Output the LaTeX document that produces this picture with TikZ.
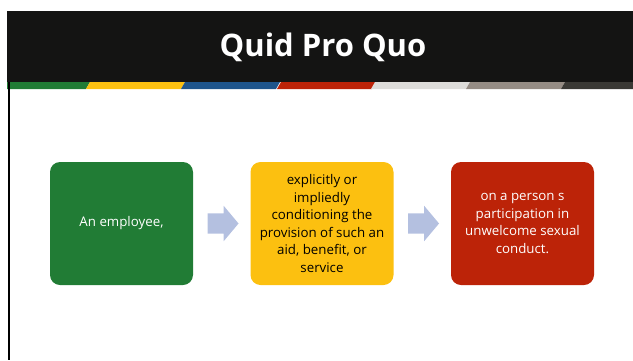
\documentclass[tikz,border=0pt]{standalone}
\usepackage{fontspec}
\setmainfont{Open Sans}
\usetikzlibrary{positioning, shapes.arrows, calc}
\definecolor{bannerblack}{HTML}{141413}
\definecolor{empgreen}{HTML}{217C35}
\definecolor{condyellow}{HTML}{FCC010}
\definecolor{conductred}{HTML}{BC2308}
\definecolor{stripeblue}{HTML}{1E558C}
\definecolor{stripelight}{HTML}{DDDCD9}
\definecolor{stripegray}{HTML}{958C84}
\definecolor{stripedark}{HTML}{3A3935}
\definecolor{flowblue}{HTML}{B4C0E0}

\begin{document}
\begin{tikzpicture}[x=1pt, y=-1pt, node distance=200.5pt,
    box/.style={rounded corners=10pt, minimum width=143pt, minimum height=123pt,
      inner sep=0pt, align=center, font=\fontsize{13.3}{17.5}\selectfont},
    flow/.style={single arrow, fill=flowblue, inner xsep=0pt, inner ysep=10pt,
      minimum height=31pt, minimum width=35pt, single arrow head extend=7.5pt,
      single arrow tip angle=100, xshift=-3pt}]
  \useasboundingbox (0,0) rectangle (633,360);

  % title banner and coloured stripe
  \fill[bannerblack] (7,11) rectangle (633,82);
  \node[font=\fontsize{31}{36}\selectfont\bfseries, text=white] (title) at (323,47) {Quid Pro Quo};
  \fill[empgreen] (7,82) -- (90,82) -- (86,89) -- (7,89) -- cycle;
  \foreach \x/\col in {90/condyellow, 185/stripeblue, 281/conductred, 375/stripelight, 470/stripegray}
    \fill[\col] (\x,82) -- (\x+95,82) -- (\x+91,89) -- (\x-4,89) -- cycle;
  \fill[stripedark] (565,82) -- (633,82) -- (633,89) -- (561,89) -- cycle;
  \draw[line width=2.5pt] (9,82) -- (9,360);

  % the three steps
  \node[box, fill=empgreen, text=white] (emp) at (121.5,223.5) {An employee,};
  \node[box, fill=condyellow, text=black, right of=emp] (cond)
    {explicitly or\\ impliedly\\ conditioning the\\ provision of such an\\ aid, benefit, or\\ service};
  \node[box, fill=conductred, text=white, right of=cond] (conduct)
    {on a person s\\ participation in\\ unwelcome sexual\\ conduct.};

  \node[flow] (a1) at ($(emp)!0.5!(cond)$) {};
  \node[flow] (a2) at ($(cond)!0.5!(conduct)$) {};
\end{tikzpicture}
\end{document}
